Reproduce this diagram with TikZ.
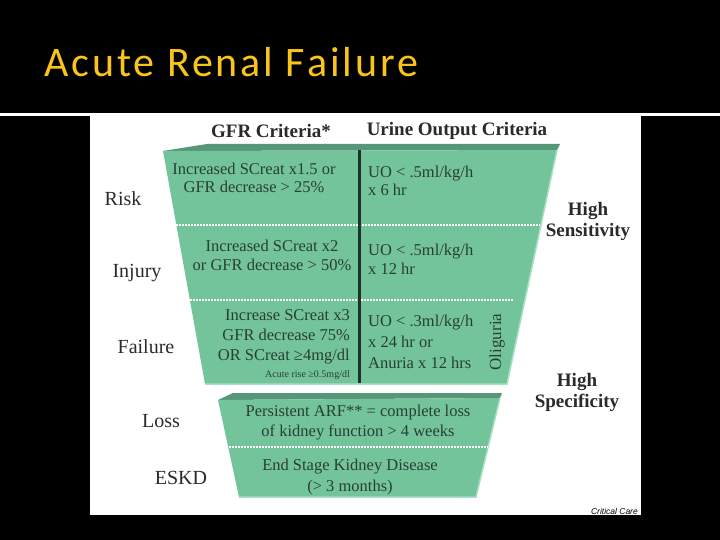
\documentclass[tikz,border=0pt]{standalone}
\usepackage{fontspec}
\setmainfont{Liberation Serif}
\newfontfamily\titlefont{Carlito}[LetterSpace=7]
\newfontfamily\notefont{Liberation Sans}
\definecolor{gold}{HTML}{F9C51A}
\definecolor{band}{HTML}{74C49B}
\definecolor{bandtop}{HTML}{56977A}
\definecolor{bandedge}{HTML}{A8E0C4}
\definecolor{txt}{HTML}{283F33}
\definecolor{lbl}{HTML}{2A2A2A}
\definecolor{divider}{HTML}{1E3328}
\tikzset{
  cell/.style={inner sep=0pt, text=txt, font=\fontsize{16.5}{19}\selectfont},
  head/.style={inner sep=0pt, text=lbl, font=\fontsize{19}{21}\bfseries\selectfont},
  side/.style={inner sep=0pt, text=lbl, font=\fontsize{20}{22}\selectfont},
  sep/.style={white, line width=1.2pt, dash pattern=on 1.5pt off 1.5pt},
}
\begin{document}
\begin{tikzpicture}[x=1pt,y=-1pt]
\useasboundingbox (0,0) rectangle (720,540);
\fill[black] (0,0) rectangle (720,540);
\fill[white] (0,113.3) rectangle (720,116);
\fill[white] (90,116) rectangle (641,515);
\node[anchor=base west, inner sep=0pt, text=gold, font=\fontsize{42}{46}\titlefont] (title) at (44,77) {Acute Renal Failure};
% upper trapezoid
\fill[bandtop] (163,151) -- (207,144) -- (560,144) -- (557,150) -- cycle;
\fill[band] (163,151) -- (557,150) -- (507,384) -- (205,384) -- cycle;
\draw[bandedge, line width=1.5pt] (557,150) -- (507,384) -- (205,384);
\draw[sep] (176,225) -- (540,225);
\draw[sep] (190,300) -- (513,300);
\draw[divider, line width=3pt] (359,150) -- (359,383);
% lower trapezoid
\fill[bandtop] (218,400) -- (233,393) -- (502,393) -- (500,398) -- cycle;
\fill[band] (218,400) -- (500,398) -- (476,497) -- (239,497) -- cycle;
\draw[bandedge, line width=1.5pt] (500,398) -- (476,497) -- (239,497);
\draw[sep] (223,447) -- (488,447);
% headers
\node[head] (gfr) at (271,131) {GFR Criteria*};
\node[head] (uo) at (457,131) {Urine Output Criteria};
% cells
\node[cell, align=center, font=\fontsize{16.5}{18}\selectfont] (r1l) at (254,178) {Increased SCreat x1.5 or\\GFR decrease > 25\%};
\node[cell, align=left, anchor=west, font=\fontsize{16.5}{18.5}\selectfont] (r1r) at (368,181) {UO < .5ml/kg/h\\x 6 hr};
\node[cell, align=center] (r2l) at (272,255) {Increased SCreat x2\\or GFR decrease > 50\%};
\node[cell, align=left, anchor=west] (r2r) at (368,259) {UO < .5ml/kg/h\\x 12 hr};
\node[cell, align=right, anchor=east, font=\fontsize{16.5}{20.3}\selectfont] (r3l) at (350,337) {Increase SCreat x3\\GFR decrease 75\%\\OR SCreat ≥4mg/dl};
\node[inner sep=0pt, text=txt, font=\fontsize{10}{12}\selectfont, anchor=east] (r3n) at (350,375) {Acute rise ≥0.5mg/dl};
\node[cell, align=left, anchor=west, font=\fontsize{16.5}{20.8}\selectfont] (r3r) at (368,342) {UO < .3ml/kg/h\\x 24 hr or\\Anuria x 12 hrs};
\node[cell, rotate=90, font=\fontsize{17}{19}\selectfont] (olig) at (497,342) {Oliguria};
\node[cell, align=center, font=\fontsize{16.5}{20}\selectfont] (r4) at (358,423) {Persistent ARF** = complete loss\\of kidney function > 4 weeks};
\node[cell, align=center, font=\fontsize{16.5}{21}\selectfont] (r5) at (350,477) {End Stage Kidney Disease\\(> 3 months)};
% side labels
\node[side] (risk) at (123,199) {Risk};
\node[side] (injury) at (137,273) {Injury};
\node[side] (failure) at (146,347) {Failure};
\node[side] (loss) at (161,421) {Loss};
\node[side] (eskd) at (181,478) {ESKD};
\node[head, align=center] (sens) at (588,221) {High\\Sensitivity};
\node[head, align=center] (spec) at (577,392) {High\\Specificity};
\node[inner sep=0pt, anchor=east, font=\fontsize{8.5}{10}\notefont\itshape] (credit) at (638,511) {Critical Care};
\end{tikzpicture}
\end{document}
